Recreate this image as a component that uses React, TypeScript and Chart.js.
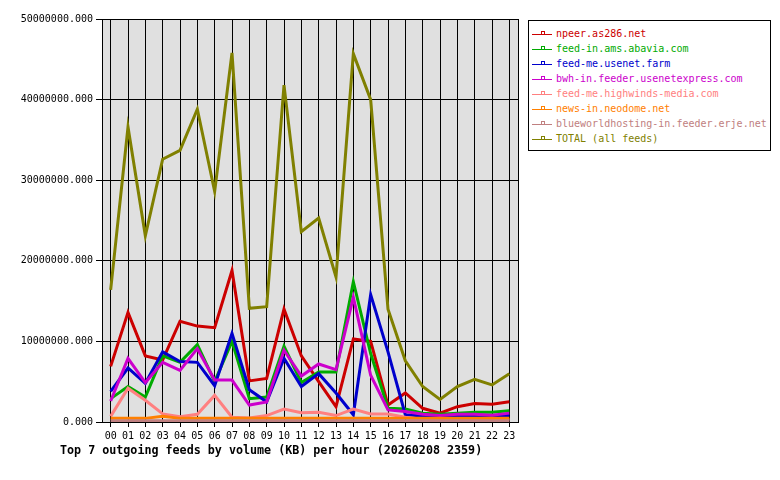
import React, { useEffect, useRef } from "react";
import { Chart, registerables } from "chart.js";

Chart.register(...registerables);

const hours = ["00","01","02","03","04","05","06","07","08","09","10","11","12","13","14","15","16","17","18","19","20","21","22","23"];

const seriesNames = [
  "npeer.as286.net",
  "feed-in.ams.abavia.com",
  "feed-me.usenet.farm",
  "bwh-in.feeder.usenetexpress.com",
  "feed-me.highwinds-media.com",
  "news-in.neodome.net",
  "blueworldhosting-in.feeder.erje.net",
  "TOTAL (all feeds)",
];

const seriesColors = ["#cc0000", "#00aa00", "#0000cc", "#cc00cc", "#ff8080", "#ff8000", "#c08080", "#808000"];

// values in millions of KB
const npeer = [6.9,13.6,8.2,7.7,12.5,11.9,11.7,18.8,5.1,5.4,14.0,8.2,5.0,1.9,10.3,10.0,2.1,3.6,1.7,1.1,1.9,2.3,2.2,2.5];
const abavia = [2.9,4.4,3.1,8.2,7.4,9.6,5.0,10.0,2.9,3.1,9.4,4.9,6.2,6.2,17.4,8.5,1.7,1.6,1.1,0.95,1.1,1.2,1.2,1.4];
const usenetFarm = [3.8,6.7,4.8,8.7,7.5,7.4,4.5,11.0,4.0,2.5,7.9,4.4,6.0,3.6,0.9,15.8,8.7,0.9,0.75,0.7,0.8,0.8,0.8,0.8];
const usenetExpress = [2.6,7.9,4.9,7.4,6.4,9.1,5.2,5.2,2.1,2.5,8.9,5.7,7.2,6.5,15.5,5.8,1.5,1.3,0.95,0.8,0.95,0.95,0.85,1.1];
const highwinds = [0.7,4.2,2.7,1.0,0.65,0.95,3.3,0.6,0.5,0.8,1.6,1.15,1.2,0.8,1.6,1.0,1.0,0.6,0.35,0.3,0.3,0.3,0.3,0.3];
const neodome = [0.45,0.45,0.45,0.7,0.45,0.45,0.45,0.45,0.45,0.45,0.45,0.45,0.45,0.45,0.45,0.45,0.45,0.45,0.45,0.45,0.45,0.45,0.45,0.45];
const blueworld = [0.15,0.15,0.15,0.15,0.15,0.15,0.15,0.15,0.15,0.15,0.15,0.15,0.15,0.15,0.15,0.15,0.15,0.15,0.15,0.15,0.15,0.15,0.15,0.15];
const total = [16.4,36.6,23.1,32.6,33.7,38.8,28.6,45.8,14.1,14.3,41.8,23.6,25.3,18.0,45.7,40.0,14.0,7.6,4.4,2.8,4.4,5.3,4.6,6.0];

const seriesValues = [npeer, abavia, usenetFarm, usenetExpress, highwinds, neodome, blueworld, total];

const yMax = 50000000;
const yStep = 10000000;

const titleText = "Top 7 outgoing feeds by volume (KB) per hour (20260208 2359)";
const FONT = "'DejaVu Sans Mono', 'Liberation Mono', monospace";

const framePlugin = {
  id: "frame",
  beforeDraw(chart: any) {
    const { ctx, chartArea } = chart;
    ctx.save();
    ctx.fillStyle = "#e0e0e0";
    ctx.fillRect(chartArea.left, chartArea.top, chartArea.right - chartArea.left, chartArea.bottom - chartArea.top);
    ctx.restore();
  },
  afterDraw(chart: any) {
    const { ctx, chartArea } = chart;
    ctx.save();
    ctx.strokeStyle = "#000";
    ctx.lineWidth = 1;
    ctx.strokeRect(Math.round(chartArea.left) + 0.5, Math.round(chartArea.top) + 0.5, Math.round(chartArea.right - chartArea.left), Math.round(chartArea.bottom - chartArea.top));
    ctx.restore();
  },
};

export default function App() {
  const ref = useRef<HTMLCanvasElement | null>(null);

  useEffect(() => {
    if (!ref.current) return;
    const n = seriesValues.length;
    const chart = new Chart(ref.current, {
      type: "line",
      data: {
        labels: hours,
        datasets: seriesValues.map((vals, i) => ({
          label: seriesNames[i],
          data: vals.map((v) => v * 1000000),
          borderColor: seriesColors[i],
          backgroundColor: seriesColors[i],
          borderWidth: 3,
          pointRadius: 0,
          tension: 0,
          fill: false,
          order: n - i,
        })),
      },
      options: {
        animation: false,
        responsive: false,
        maintainAspectRatio: false,
        layout: { padding: { left: 0, right: 262, top: 19, bottom: 0 } },
        plugins: {
          legend: { display: false },
          tooltip: { enabled: false },
          title: { display: false },
        },
        scales: {
          x: {
            type: "category",
            offset: true,
            afterFit: (s: any) => { s.height = 58; },
            grid: { offset: false, color: "#000", lineWidth: 1, tickLength: 5, drawOnChartArea: true },
            border: { display: true, color: "#000" },
            ticks: { color: "#000", font: { family: FONT, size: 10 }, padding: 3, maxRotation: 0, autoSkip: false },
          },
          y: {
            min: 0,
            max: yMax,
            afterFit: (s: any) => { s.width = 102; },
            grid: { color: "#000", lineWidth: 1, tickLength: 6 },
            border: { display: true, color: "#000" },
            ticks: {
              stepSize: yStep,
              color: "#000",
              font: { family: FONT, size: 10 },
              padding: 3,
              callback: (v: any) => Number(v).toFixed(3),
            },
          },
        },
      },
      plugins: [framePlugin],
    });
    return () => chart.destroy();
  }, []);

  return (
    <div style={{ position: "fixed", left: 0, top: 0, width: 780, height: 480, background: "#fff", overflow: "hidden" }}>
      <canvas ref={ref} width={780} height={480} style={{ position: "absolute", left: 0, top: 0, width: 780, height: 480 }} />
      <div
        style={{
          position: "absolute",
          left: 528,
          top: 20,
          width: 241,
          height: 124,
          border: "1px solid #000",
          background: "#fff",
          paddingTop: 5,
          boxSizing: "content-box",
        }}
      >
        {seriesNames.map((name, i) => (
          <div key={name} style={{ display: "flex", alignItems: "center", height: 15, paddingLeft: 3 }}>
            <svg width={20} height={15} style={{ display: "block", flex: "none" }}>
              <line x1={0} y1={8.5} x2={20} y2={8.5} stroke={seriesColors[i]} strokeWidth={1} />
              <rect x={9.5} y={5.5} width={3} height={3} fill="none" stroke={seriesColors[i]} strokeWidth={1} />
            </svg>
            <span style={{ marginLeft: 4, fontFamily: FONT, fontSize: 10, lineHeight: "15px", color: seriesColors[i], whiteSpace: "nowrap" }}>
              {name}
            </span>
          </div>
        ))}
      </div>
      <div
        style={{
          position: "absolute",
          left: 60,
          top: 443,
          fontFamily: FONT,
          fontWeight: "bold",
          fontSize: 11.7,
          lineHeight: "14px",
          color: "#000",
          whiteSpace: "nowrap",
        }}
      >
        {titleText}
      </div>
    </div>
  );
}
